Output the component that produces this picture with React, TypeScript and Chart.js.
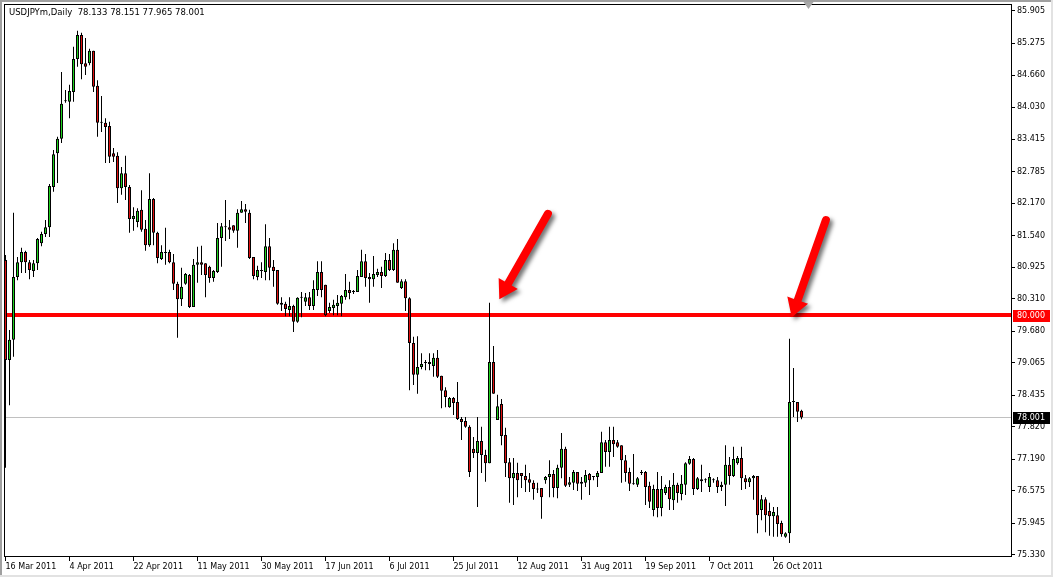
import React, { useEffect, useRef } from 'react';
import { Chart, registerables } from 'chart.js';

Chart.register(...registerables);

const symbolName = 'USDJPYm,Daily';

const dateLabels = [
  '16 Mar 2011', '4 Apr 2011', '22 Apr 2011', '11 May 2011', '30 May 2011', '17 Jun 2011', '6 Jul 2011',
  '25 Jul 2011', '12 Aug 2011', '31 Aug 2011', '19 Sep 2011', '7 Oct 2011', '26 Oct 2011',
];
const barsPerDateLabel = 16;

const priceTicks = [
  85.905, 85.275, 84.66, 84.03, 83.415, 82.785, 82.17, 81.54, 80.925, 80.31,
  79.68, 79.065, 78.435, 77.82, 77.19, 76.575, 75.945, 75.33,
];

const opens = [
  81.06, 79.12, 79.51, 80.73, 81.02, 81.22, 81.02, 80.85, 81.00, 81.39,
  81.57, 81.70, 82.48, 83.14, 83.42, 84.15, 84.14, 84.33, 84.97, 85.44,
  84.89, 84.89, 85.13, 84.45, 83.75, 83.73, 83.67, 83.14, 83.09, 82.46,
  82.75, 82.48, 81.86, 81.80, 82.04, 81.67, 81.35, 82.25, 81.59, 81.08,
  81.22, 81.22, 81.02, 80.60, 80.30, 80.60, 80.77, 80.15, 80.97, 81.02,
  81.00, 80.93, 80.71, 80.83, 81.49, 81.70, 81.70, 81.74, 81.63, 81.98,
  82.05, 81.98, 81.12, 80.73, 80.85, 80.83, 81.33, 80.93, 80.87, 80.23,
  80.21, 80.09, 80.17, 79.86, 80.34, 80.25, 80.34, 80.17, 80.48, 80.83,
  80.58, 80.07, 80.13, 80.17, 80.21, 80.34, 80.48, 80.44, 80.44, 80.73,
  81.04, 80.73, 80.69, 80.77, 80.83, 80.75, 81.06, 80.87, 81.26, 80.52,
  80.65, 80.32, 79.45, 78.83, 78.98, 79.06, 79.04, 79.00, 79.16, 78.81,
  78.53, 78.20, 78.38, 78.30, 77.97, 77.93, 77.82, 77.39, 77.31, 77.54,
  77.27, 77.11, 79.08, 77.95, 78.26, 77.66, 77.13, 76.82, 76.92, 76.92,
  76.86, 76.80, 76.73, 76.61, 76.63, 76.78, 76.84, 76.90, 76.63, 77.02,
  77.39, 76.69, 76.73, 76.94, 76.71, 76.73, 76.90, 76.84, 76.84, 76.92,
  77.52, 77.33, 77.56, 77.52, 77.46, 77.17, 76.94, 76.71, 76.69, 76.92,
  76.94, 76.67, 76.20, 76.61, 76.24, 76.53, 76.65, 76.39, 76.69, 76.51,
  76.69, 77.10, 77.19, 76.61, 76.80, 76.78, 76.65, 76.78, 76.78, 76.65,
  76.69, 77.08, 76.86, 77.11, 77.21, 76.82, 76.74, 76.82, 76.86, 76.20,
  76.41, 76.18, 76.08, 76.10, 75.95, 75.68, 75.75, 78.30, 78.30, 78.133,
];

const highs = [
  81.16, 79.70, 81.98, 81.12, 81.30, 81.24, 81.06, 81.06, 81.49, 81.61,
  81.84, 82.54, 83.20, 83.46, 84.72, 84.37, 84.47, 85.21, 85.52, 85.48,
  85.38, 85.17, 85.13, 84.56, 84.25, 83.82, 83.75, 83.24, 83.16, 82.87,
  83.09, 82.52, 82.09, 82.07, 82.42, 81.84, 82.75, 82.27, 81.61, 81.35,
  81.69, 81.26, 81.18, 80.64, 80.91, 80.81, 80.79, 81.08, 81.32, 81.34,
  81.00, 80.95, 80.87, 81.78, 81.78, 82.23, 81.84, 81.74, 82.05, 82.21,
  82.15, 82.04, 81.12, 80.95, 81.02, 81.76, 81.49, 81.06, 80.87, 80.34,
  80.25, 80.34, 80.19, 80.34, 80.44, 80.42, 80.44, 80.67, 81.04, 81.04,
  80.58, 80.23, 80.29, 80.38, 80.38, 80.79, 80.64, 80.48, 80.87, 81.26,
  81.18, 80.81, 81.14, 80.89, 80.93, 81.20, 81.18, 81.39, 81.47, 80.69,
  80.69, 80.34, 79.57, 79.58, 79.25, 79.12, 79.25, 79.25, 79.31, 78.81,
  78.59, 78.40, 78.40, 78.69, 78.01, 78.01, 77.85, 77.62, 78.01, 77.82,
  77.37, 80.23, 79.39, 78.44, 78.36, 77.80, 77.21, 77.21, 77.12, 76.92,
  77.08, 76.92, 76.78, 76.73, 76.63, 76.86, 77.17, 76.98, 77.08, 77.70,
  77.43, 76.84, 76.98, 76.94, 76.84, 76.98, 76.92, 76.86, 76.96, 77.72,
  77.56, 77.82, 77.82, 77.56, 77.46, 77.27, 77.02, 77.29, 76.84, 76.98,
  76.96, 76.75, 76.69, 76.94, 76.86, 76.69, 76.78, 76.92, 76.73, 76.88,
  77.13, 77.25, 77.21, 76.84, 77.08, 76.82, 76.92, 76.82, 76.84, 76.75,
  77.46, 77.23, 77.43, 77.25, 77.43, 76.88, 76.84, 76.88, 76.86, 76.49,
  76.45, 76.34, 76.26, 76.26, 75.99, 75.77, 79.53, 78.96, 78.30, 78.151,
];

const lows = [
  77.02, 78.24, 79.18, 80.67, 80.81, 80.81, 80.69, 80.73, 80.87, 81.33,
  81.51, 81.51, 82.39, 82.56, 83.34, 84.12, 83.82, 84.14, 84.82, 84.58,
  84.66, 84.85, 84.33, 83.46, 83.55, 82.95, 82.95, 82.97, 82.17, 82.33,
  82.23, 81.59, 81.63, 81.70, 81.61, 81.24, 81.32, 81.35, 81.00, 81.06,
  80.97, 81.00, 80.48, 79.55, 80.17, 80.58, 80.13, 80.15, 80.62, 80.77,
  80.34, 80.62, 80.64, 80.81, 80.93, 81.43, 81.47, 81.59, 81.30, 81.98,
  81.78, 81.08, 80.69, 80.67, 80.71, 80.67, 80.67, 80.54, 80.19, 80.07,
  79.97, 79.97, 79.66, 79.84, 79.95, 80.17, 80.09, 80.09, 80.36, 80.34,
  79.97, 80.03, 79.99, 79.99, 79.97, 80.29, 80.30, 80.40, 80.44, 80.73,
  80.54, 80.23, 80.54, 80.73, 80.52, 80.73, 80.85, 80.85, 80.62, 80.50,
  80.07, 78.53, 78.63, 78.46, 78.94, 78.92, 78.92, 78.79, 78.77, 78.18,
  78.20, 78.19, 78.05, 77.95, 77.56, 77.80, 76.84, 77.21, 76.26, 76.92,
  76.75, 77.11, 78.46, 77.95, 77.46, 76.84, 76.34, 76.30, 76.45, 76.63,
  76.55, 76.55, 76.40, 76.53, 76.03, 76.71, 76.45, 76.45, 76.43, 76.82,
  76.65, 76.65, 76.59, 76.57, 76.40, 76.65, 76.49, 76.78, 76.65, 76.92,
  77.04, 77.04, 77.23, 77.41, 76.73, 76.75, 76.57, 76.69, 76.65, 76.88,
  76.30, 76.24, 76.08, 76.06, 76.08, 76.49, 76.20, 76.20, 76.34, 76.39,
  76.49, 77.08, 76.49, 76.59, 76.55, 76.73, 76.55, 76.73, 76.53, 76.57,
  76.28, 76.69, 76.84, 77.08, 76.59, 76.61, 76.65, 76.40, 75.75, 76.00,
  75.77, 75.70, 75.68, 75.68, 75.68, 75.66, 75.56, 78.01, 77.91, 77.965,
];

const closes = [
  79.12, 79.51, 80.73, 81.02, 81.22, 81.02, 80.87, 81.00, 81.47, 81.57,
  81.70, 82.50, 83.12, 83.42, 84.10, 84.17, 84.35, 84.97, 85.44, 84.87,
  84.82, 85.13, 84.43, 83.73, 83.73, 83.65, 83.07, 83.07, 82.46, 82.75,
  82.48, 81.86, 81.92, 82.02, 81.65, 81.35, 82.25, 81.59, 81.10, 81.22,
  81.20, 81.02, 80.60, 80.30, 80.54, 80.79, 80.15, 80.97, 81.02, 80.97,
  80.77, 80.71, 80.85, 81.49, 81.72, 81.71, 81.65, 81.63, 81.98, 82.05,
  82.00, 81.10, 80.75, 80.87, 80.86, 81.33, 80.91, 80.85, 80.21, 80.19,
  80.11, 80.17, 79.86, 80.33, 80.33, 80.34, 80.17, 80.50, 80.83, 80.48,
  79.99, 80.15, 80.19, 80.23, 80.36, 80.48, 80.42, 80.45, 80.75, 81.04,
  80.71, 80.69, 80.79, 80.83, 80.75, 81.06, 80.87, 81.26, 80.62, 80.65,
  80.32, 79.45, 78.83, 78.98, 79.04, 79.07, 79.08, 79.16, 78.79, 78.52,
  78.40, 78.38, 78.28, 77.97, 77.91, 77.82, 76.94, 77.31, 77.54, 77.27,
  77.11, 79.08, 78.46, 78.22, 77.64, 77.11, 76.82, 76.92, 76.78, 76.86,
  76.78, 76.73, 76.61, 76.60, 76.45, 76.84, 76.90, 76.63, 77.02, 77.39,
  76.67, 76.74, 76.94, 76.71, 76.75, 76.88, 76.78, 76.85, 76.92, 77.52,
  77.33, 77.56, 77.48, 77.43, 77.17, 76.92, 76.71, 76.70, 76.82, 76.94,
  76.65, 76.36, 76.61, 76.24, 76.61, 76.65, 76.41, 76.69, 76.53, 76.71,
  77.11, 77.19, 76.61, 76.82, 76.76, 76.79, 76.84, 76.79, 76.65, 76.69,
  77.08, 76.86, 77.19, 77.21, 76.82, 76.74, 76.82, 76.86, 76.10, 76.41,
  76.10, 76.08, 76.16, 75.93, 75.73, 75.75, 78.30, 78.31, 78.11, 78.001,
];

const levelPrice = 80.0;
const bidPrice = 78.001;

// annotation arrows in data units: [bar index, price]
const arrowTails = [[135.6, 81.96], [205.1, 81.84]];
const arrowTips = [[123.45, 80.3], [196.55, 79.95]];
const shiftMarkerBar = 200.6;

const X_MIN = -0.375;
const X_MAX = 251.625;
const Y_MIN = 75.2865;
const Y_MAX = 86.041;

const FONT = '"DejaVu Sans", sans-serif';
const BULL = '#1ed21e';
const BEAR = '#e01010';

function drawArrow(ctx: CanvasRenderingContext2D, x1: number, y1: number, x2: number, y2: number) {
  const dx = x2 - x1;
  const dy = y2 - y1;
  const len = Math.hypot(dx, dy);
  const ux = dx / len;
  const uy = dy / len;
  const px = -uy;
  const py = ux;
  const w = 4;
  const headLen = 18;
  const headW = 11;
  const bx = x2 - ux * headLen;
  const by = y2 - uy * headLen;
  ctx.save();
  ctx.shadowColor = 'rgba(0,0,0,0.55)';
  ctx.shadowBlur = 4;
  ctx.shadowOffsetX = 3;
  ctx.shadowOffsetY = 3;
  ctx.fillStyle = '#ff0000';
  ctx.beginPath();
  ctx.moveTo(x1 + px * w, y1 + py * w);
  ctx.lineTo(bx + px * w, by + py * w);
  ctx.lineTo(bx + px * headW, by + py * headW);
  ctx.lineTo(x2, y2);
  ctx.lineTo(bx - px * headW, by - py * headW);
  ctx.lineTo(bx - px * w, by - py * w);
  ctx.lineTo(x1 - px * w, y1 - py * w);
  ctx.arc(x1, y1, w, Math.atan2(-py, -px), Math.atan2(py, px), true);
  ctx.closePath();
  ctx.fill();
  ctx.restore();
}

const mt4Plugin = {
  id: 'mt4Look',
  beforeDraw(chart: any) {
    const { ctx, width, height } = chart;
    ctx.save();
    ctx.fillStyle = '#ffffff';
    ctx.fillRect(0, 0, width, height);
    ctx.fillStyle = '#a0a0a0';
    ctx.fillRect(0, 0, width, 2);
    ctx.fillRect(0, 0, 2, height);
    ctx.fillStyle = '#e2e2e2';
    ctx.fillRect(0, height - 2, width, 2);
    ctx.fillRect(width - 2, 0, 2, height);
    ctx.restore();
  },
  beforeDatasetsDraw(chart: any) {
    const { ctx, chartArea: a, scales } = chart;
    const y = scales.y;
    ctx.save();
    const yb = Math.round(y.getPixelForValue(bidPrice)) + 0.5;
    ctx.strokeStyle = '#c0c0c0';
    ctx.lineWidth = 1;
    ctx.beginPath();
    ctx.moveTo(a.left, yb);
    ctx.lineTo(a.right, yb);
    ctx.stroke();
    const yl = Math.round(y.getPixelForValue(levelPrice));
    ctx.strokeStyle = '#ff0000';
    ctx.lineWidth = 4;
    ctx.beginPath();
    ctx.moveTo(a.left, yl);
    ctx.lineTo(a.right, yl);
    ctx.stroke();
    ctx.restore();
  },
  afterDraw(chart: any) {
    const { ctx, chartArea: a, scales } = chart;
    const x = scales.x;
    const y = scales.y;
    ctx.save();
    // frame
    ctx.strokeStyle = '#000';
    ctx.lineWidth = 1;
    ctx.strokeRect(a.left + 0.5, a.top + 0.5, a.right - a.left - 1, a.bottom - a.top - 1);

    // price boxes on the axis
    ctx.font = `8px ${FONT}`;
    ctx.textBaseline = 'middle';
    ctx.textAlign = 'left';
    const boxes = [
      { price: levelPrice, bg: '#ff0000' },
      { price: bidPrice, bg: '#000000' },
    ];
    boxes.forEach((b) => {
      const py = Math.round(y.getPixelForValue(b.price));
      ctx.fillStyle = b.bg;
      ctx.fillRect(a.right + 1, py - 5, 37, 12);
      ctx.fillStyle = '#ffffff';
      ctx.fillText(b.price.toFixed(3), a.right + 5, py + 1);
    });

    // title
    const last = opens.length - 1;
    const title = `${symbolName}  ${opens[last].toFixed(3)} ${highs[last].toFixed(3)} ${lows[last].toFixed(3)} ${closes[last].toFixed(3)}`;
    ctx.font = `8.5px ${FONT}`;
    ctx.fillStyle = '#000';
    ctx.fillText(title, a.left + 5, a.top + 9);

    // chart shift marker
    const sx = Math.round(x.getPixelForValue(shiftMarkerBar)) + 0.5;
    ctx.fillStyle = '#a8a8a8';
    ctx.beginPath();
    ctx.moveTo(sx - 5, a.top - 2);
    ctx.lineTo(sx + 5, a.top - 2);
    ctx.lineTo(sx, a.top + 5);
    ctx.closePath();
    ctx.fill();

    // arrows
    arrowTails.forEach((t, i) => {
      const tip = arrowTips[i];
      drawArrow(
        ctx,
        x.getPixelForValue(t[0]), y.getPixelForValue(t[1]),
        x.getPixelForValue(tip[0]), y.getPixelForValue(tip[1]),
      );
    });
    ctx.restore();
  },
};

export default function App() {
  const ref = useRef<HTMLCanvasElement>(null);
  useEffect(() => {
    const canvas = ref.current;
    if (!canvas) return;
    const idx = opens.map((_, i) => i);
    const wickData = idx.map((i) => ({ x: i, y: [lows[i], highs[i]] }));
    const bodyData = idx.map((i) => ({ x: i, y: [opens[i], closes[i]] }));
    const bodyColors = idx.map((i) => (closes[i] >= opens[i] ? BULL : BEAR));
    const chart = new Chart(canvas, {
      type: 'bar',
      data: {
        datasets: [
          {
            label: 'wick',
            data: wickData as any,
            backgroundColor: '#000000',
            borderWidth: 0,
            barThickness: 1,
            maxBarThickness: 1,
            grouped: false,
            order: 2,
            inflateAmount: 0,
          } as any,
          {
            label: 'body',
            data: bodyData as any,
            backgroundColor: bodyColors,
            borderColor: '#000000',
            borderWidth: 1,
            borderSkipped: false,
            barThickness: 3,
            maxBarThickness: 3,
            grouped: false,
            order: 1,
            inflateAmount: 0,
            minBarLength: 1,
          } as any,
        ],
      },
      options: {
        responsive: false,
        animation: false,
        devicePixelRatio: 1,
        events: [],
        layout: { padding: { left: 4, top: 4, right: 0, bottom: 0 } },
        plugins: {
          legend: { display: false },
          tooltip: { enabled: false },
          title: { display: false },
        },
        scales: {
          x: {
            type: 'linear',
            position: 'bottom',
            min: X_MIN,
            max: X_MAX,
            offset: false,
            grid: {
              display: true,
              drawOnChartArea: false,
              drawTicks: true,
              tickLength: 4,
              tickColor: '#000',
              color: '#000',
              offset: false,
            },
            border: { display: false },
            ticks: {
              align: 'start',
              maxRotation: 0,
              minRotation: 0,
              autoSkip: false,
              padding: 1,
              color: '#000',
              font: { family: FONT, size: 8 },
              callback: (v: any) => dateLabels[Math.round(Number(v) / barsPerDateLabel)] ?? '',
            },
            afterBuildTicks: (s: any) => {
              s.ticks = dateLabels.map((_, k) => ({ value: k * barsPerDateLabel }));
            },
            afterFit: (s: any) => {
              s.height = 20;
              s.paddingLeft = 0;
              s.paddingRight = 0;
            },
          } as any,
          y: {
            type: 'linear',
            position: 'right',
            min: Y_MIN,
            max: Y_MAX,
            grid: {
              display: true,
              drawOnChartArea: false,
              drawTicks: true,
              tickLength: 3,
              tickColor: '#000',
              color: '#000',
            },
            border: { display: false },
            ticks: {
              autoSkip: false,
              padding: 2,
              color: '#000',
              font: { family: FONT, size: 8 },
              callback: (v: any) => Number(v).toFixed(3),
            },
            afterBuildTicks: (s: any) => {
              s.ticks = priceTicks.map((v) => ({ value: v }));
            },
            afterFit: (s: any) => {
              s.width = 41;
              s.paddingTop = 0;
              s.paddingBottom = 0;
            },
          } as any,
        },
      },
      plugins: [mt4Plugin],
    });
    return () => chart.destroy();
  }, []);

  return (
    <div style={{ position: 'absolute', left: 0, top: 0, width: 1053, height: 577 }}>
      <canvas ref={ref} width={1053} height={577} style={{ display: 'block' }} />
    </div>
  );
}
